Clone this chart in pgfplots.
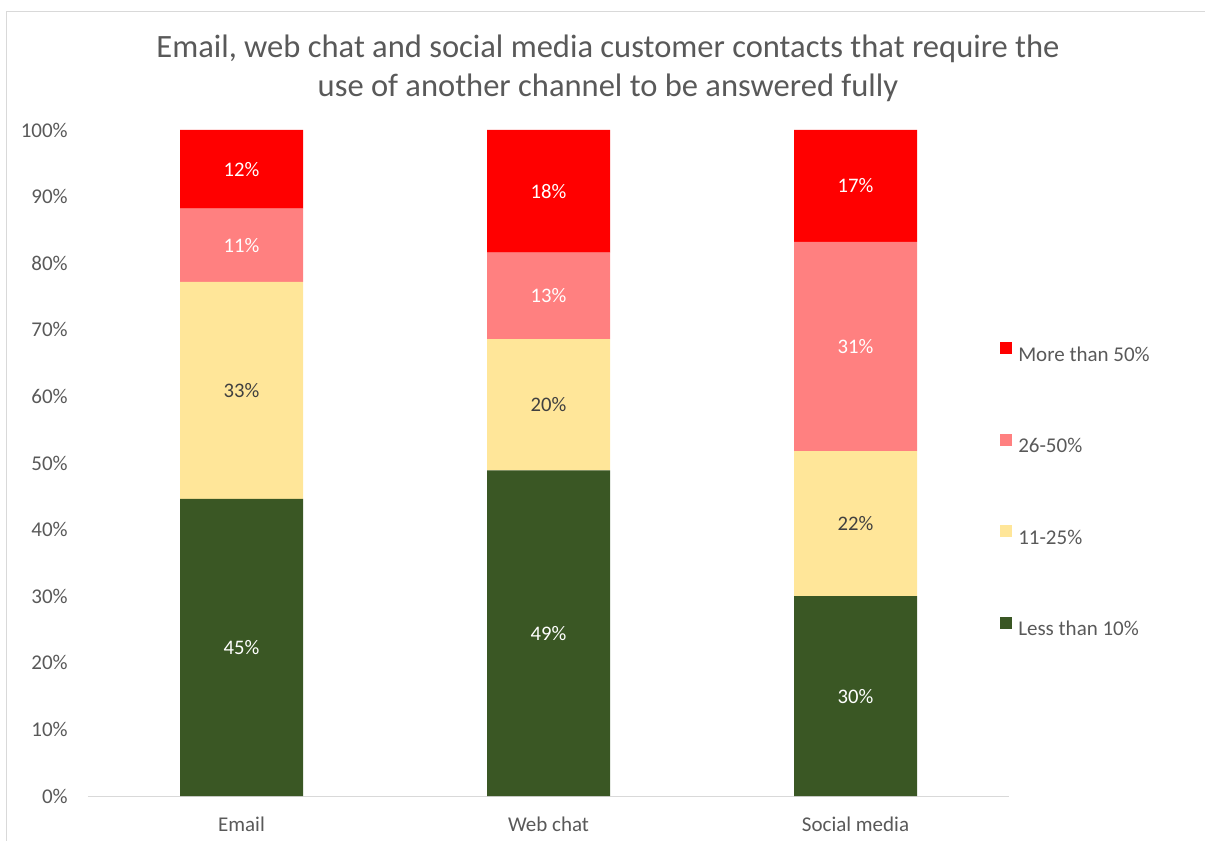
\documentclass[border=0pt]{standalone}
\usepackage{fontspec}
\setmainfont{Carlito}
\usepackage{pgfplots}
\pgfplotsset{compat=1.18}
\usepackage{pgfplotstable}

\definecolor{over50}{HTML}{FF0000}
\definecolor{mid50}{HTML}{FF8080}
\definecolor{low25}{HTML}{FFE699}
\definecolor{under10}{HTML}{3A5724}
\definecolor{txtgray}{HTML}{595959}
\definecolor{darktxt}{HTML}{404040}
\definecolor{linegray}{HTML}{D9D9D9}

% share of contacts in each band, per channel
\pgfplotstableread{
x  less  low  mid  more
0  44.6  32.6 11.0 11.8
1  48.9  19.7 13.0 18.4
2  30.0  21.8 31.4 16.8
}\contacts
% middle of every stacked segment, for the value labels
\pgfplotstablecreatecol[create col/expr={\thisrow{less}/2}]{cless}\contacts
\pgfplotstablecreatecol[create col/expr={\thisrow{less}+\thisrow{low}/2}]{clow}\contacts
\pgfplotstablecreatecol[create col/expr={\thisrow{less}+\thisrow{low}+\thisrow{mid}/2}]{cmid}\contacts
\pgfplotstablecreatecol[create col/expr={\thisrow{less}+\thisrow{low}+\thisrow{mid}+\thisrow{more}/2}]{cmore}\contacts

\pgfplotsset{
  plotarea/.style={
    width=690.75pt, height=499.5pt, scale only axis,
    xmin=-0.5, xmax=2.5, ymin=0, ymax=100,
    /pgf/number format/assume math mode=true,
  },
  seglabel/.style={
    only marks, mark=*, mark size=0pt, mark options={draw=none, fill=none},
    point meta=explicit,
    nodes near coords={\pgfmathprintnumber[fixed,precision=0]{\pgfplotspointmeta}\%},
    every node near coord/.style={anchor=center, inner sep=0pt, text=#1,
      font=\fontsize{15.5}{17}\selectfont},
  },
}

\begin{document}
\begin{tikzpicture}[x=1pt,y=1pt]
\draw[linegray, line width=0.75pt] (-60.75,-80) rectangle (880,588);
\begin{axis}[
  plotarea,
  ybar stacked, bar width=92.25pt,
  xtick={0,1,2}, xticklabels={Email,Web chat,Social media},
  ytick={0,10,...,100},
  yticklabels={0\%,10\%,20\%,30\%,40\%,50\%,60\%,70\%,80\%,90\%,100\%},
  major tick length=0pt,
  axis x line*=bottom, axis y line*=left,
  y axis line style={draw=none},
  x axis line style={linegray, line width=0.75pt},
  tick label style={font=\fontsize{15.75}{18}\selectfont, text=txtgray, inner sep=0pt},
  yticklabel style={anchor=east, xshift=-15pt},
  xticklabel style={anchor=base, yshift=-26.25pt},
  title={Email, web chat and social media customer contacts that require the\\use of another channel to be answered fully},
  title style={at={(0.5,1)}, anchor=center, yshift=40.6pt, xshift=44.6pt,
    align=center, font=\fontsize{24.4}{29.25}\selectfont, text=txtgray, inner sep=0pt},
  reverse legend,
  legend cell align=left,
  legend image code/.code={\fill[#1] (0pt,0pt) rectangle (9pt,9pt);},
  legend style={draw=none, fill=none, at={(0.9902,0.461)}, anchor=west,
    inner sep=0pt, row sep=54.1pt, column sep=4.5pt,
    font=\fontsize{15.75}{18}\selectfont, text=txtgray,
    nodes={inner sep=0pt, text height=11pt, text depth=0pt}},
]
\addplot[fill=under10, draw=none] table[x=x, y=less]{\contacts};
\addlegendentry{Less than 10\%}
\addplot[fill=low25, draw=none] table[x=x, y=low]{\contacts};
\addlegendentry{11-25\%}
\addplot[fill=mid50, draw=none] table[x=x, y=mid]{\contacts};
\addlegendentry{26-50\%}
\addplot[fill=over50, draw=none] table[x=x, y=more]{\contacts};
\addlegendentry{More than 50\%}
\end{axis}
% value labels, centred in each segment
\begin{axis}[plotarea, hide axis]
\addplot[seglabel=white] table[x=x, y=cless, meta=less]{\contacts};
\addplot[seglabel=darktxt] table[x=x, y=clow, meta=low]{\contacts};
\addplot[seglabel=white] table[x=x, y=cmid, meta=mid]{\contacts};
\addplot[seglabel=white] table[x=x, y=cmore, meta=more]{\contacts};
\end{axis}
\pgfresetboundingbox
\useasboundingbox (-66,-33) rectangle (837.75,597);
\end{tikzpicture}
\end{document}
